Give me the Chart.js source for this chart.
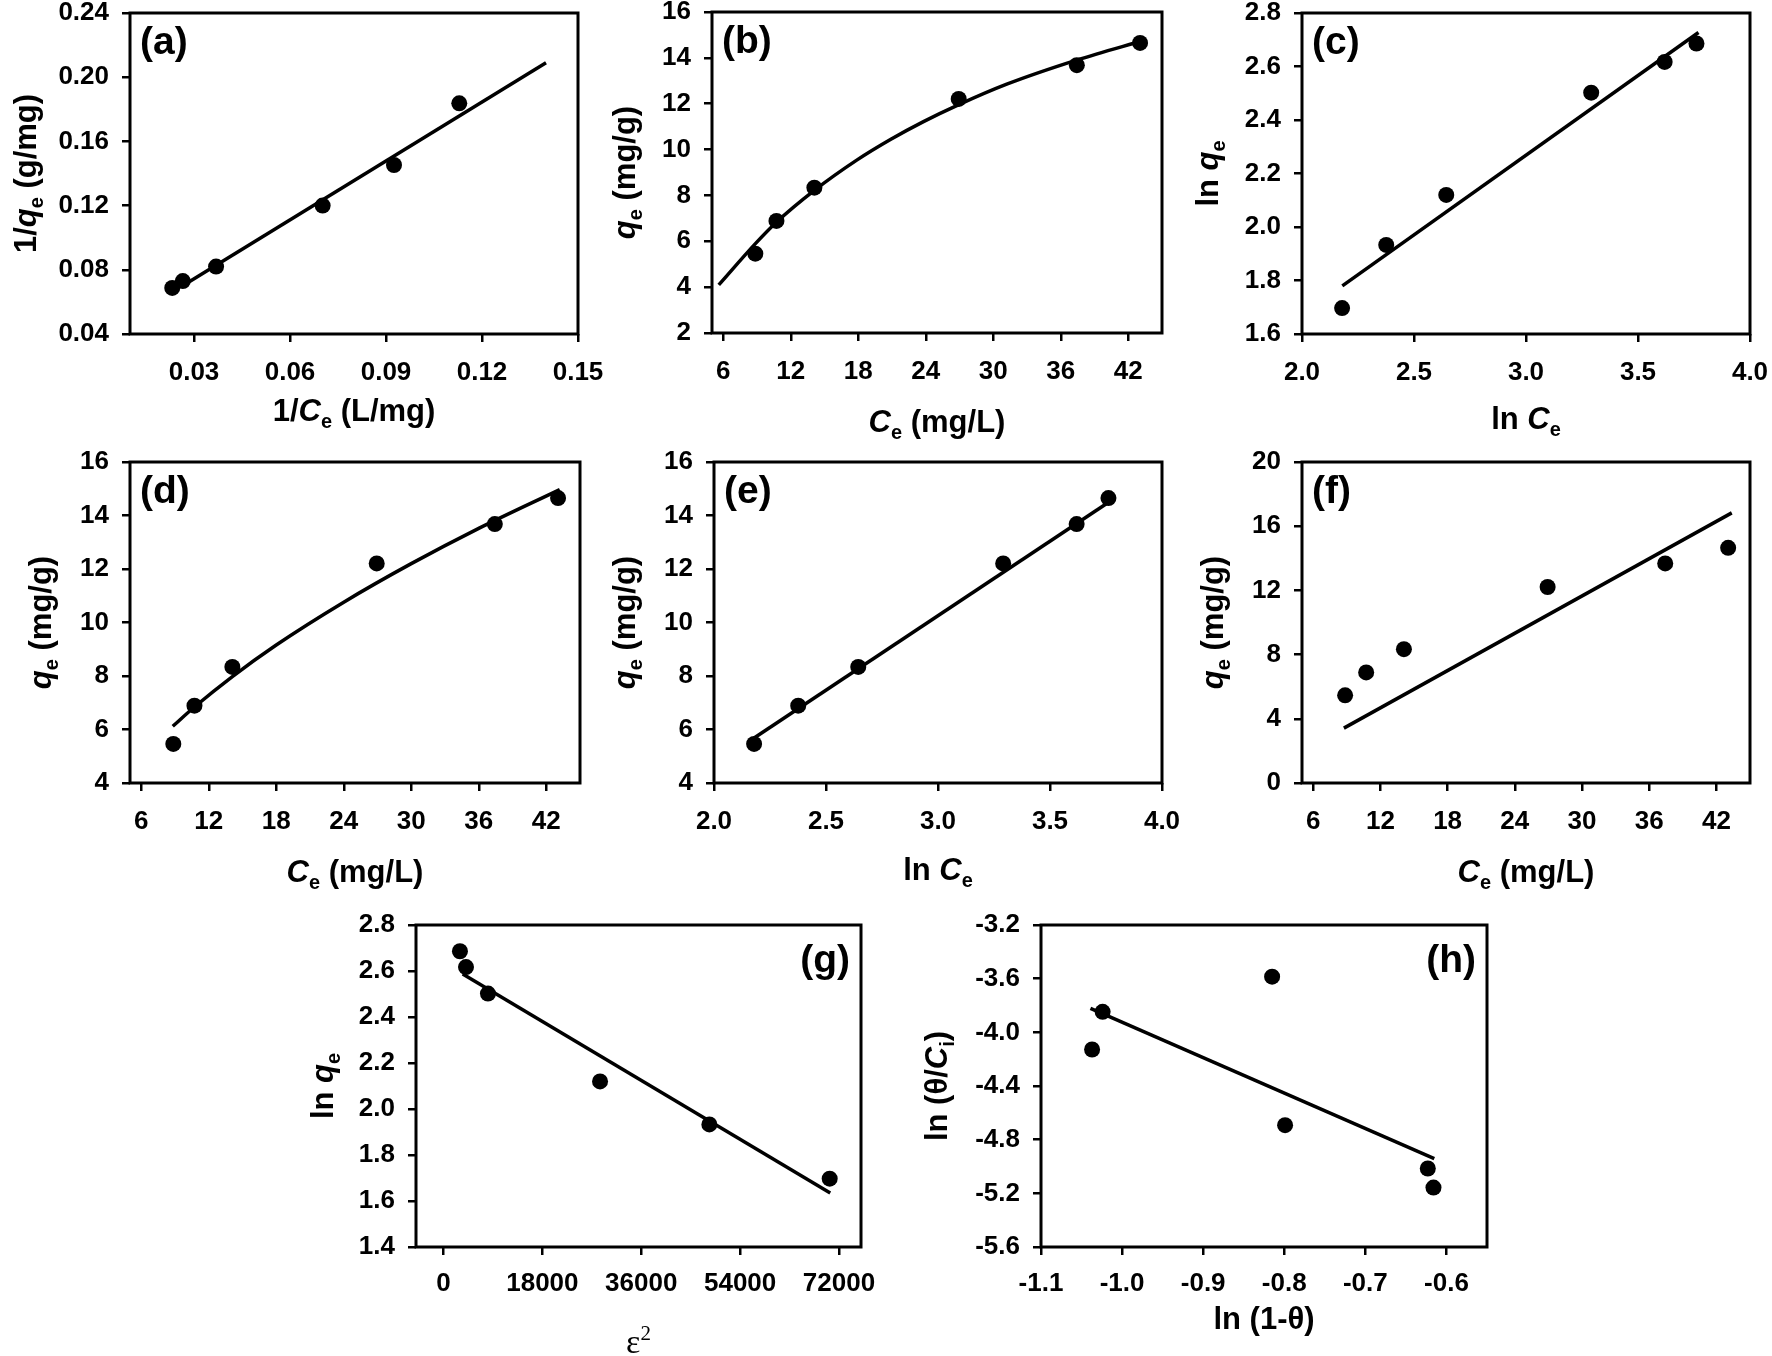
<!DOCTYPE html>
<html>
<head>
<meta charset="utf-8">
<script src="https://cdn.jsdelivr.net/npm/chart.js@4.4.1/dist/chart.umd.min.js"></script>
<style>
  html, body { margin: 0; padding: 0; background: #fff; }
  #page { position: relative; width: 1772px; height: 1356px; overflow: hidden; background: #fff; }
  .panel { position: absolute; }
</style>
</head>
<body>
<div id="page"></div>
<script>
// ---- data ----
// (a) linear Langmuir
const invCe = [0.0232, 0.0265, 0.0369, 0.0702, 0.0925, 0.1129];
const invQe = [0.0687, 0.0730, 0.0820, 0.1200, 0.1453, 0.1837];
const fitAX = [0.028, 0.140];
const fitAY = [0.072, 0.209];

// (b), (d), (f) equilibrium data
const ce = [8.85, 10.73, 14.1, 26.93, 37.43, 43.05];
const qe = [5.46, 6.89, 8.34, 12.21, 13.68, 14.65];

// (b) Langmuir curve
const fitBX = [5.6, 8.9, 10.7, 14.1, 17.9, 20.9, 23.8, 26.9, 31.2, 37.4, 43.5];
const fitBY = [4.1, 5.92, 6.82, 8.22, 9.55, 10.45, 11.22, 11.95, 12.85, 13.9, 14.78];

// (c), (e) log data
const lnCe = [2.179, 2.376, 2.644, 3.291, 3.619, 3.761];
const lnQe = [1.697, 1.933, 2.12, 2.502, 2.617, 2.686];
const fitCX = [2.18, 3.77];
const fitCY = [1.78, 2.727];

// (d) Freundlich curve
const fitDX = [8.8, 10.75, 14.1, 18, 24, 30, 36, 43.2];
const fitDY = [6.12, 6.85, 7.98, 9.16, 10.76, 12.2, 13.52, 14.97];

// (e) Temkin line
const fitEX = [2.179, 3.775];
const fitEY = [5.68, 14.57];

// (f) Henry line
const fitFX = [8.74, 43.37];
const fitFY = [3.42, 16.83];

// (g) D-R
const epsSq = [3000, 4100, 8100, 28500, 48400, 70300];
const lnQeG = [2.686, 2.617, 2.502, 2.12, 1.933, 1.697];
const fitGX = [3500, 70400];
const fitGY = [2.587, 1.635];

// (h) Frumkin
const lnOneMinusTheta = [-1.037, -1.024, -0.815, -0.799, -0.623, -0.616];
const lnThetaCi = [-4.128, -3.847, -3.585, -4.692, -5.015, -5.157];
const fitHX = [-1.039, -0.615];
const fitHY = [-3.822, -4.941];

// tick labels
const ticksAX = ['0.03', '0.06', '0.09', '0.12', '0.15'];
const ticksAY = ['0.04', '0.08', '0.12', '0.16', '0.20', '0.24'];
const ticksCeX = ['6', '12', '18', '24', '30', '36', '42'];
const ticksBY = ['2', '4', '6', '8', '10', '12', '14', '16'];
const ticksLnX = ['2.0', '2.5', '3.0', '3.5', '4.0'];
const ticksCY = ['1.6', '1.8', '2.0', '2.2', '2.4', '2.6', '2.8'];
const ticksDY = ['4', '6', '8', '10', '12', '14', '16'];
const ticksFY = ['0', '4', '8', '12', '16', '20'];
const ticksGX = ['0', '18000', '36000', '54000', '72000'];
const ticksGY = ['1.4', '1.6', '1.8', '2.0', '2.2', '2.4', '2.6', '2.8'];
const ticksHX = ['-1.1', '-1.0', '-0.9', '-0.8', '-0.7', '-0.6'];
const ticksHY = ['-5.6', '-5.2', '-4.8', '-4.4', '-4.0', '-3.6', '-3.2'];

// ---- layout ----
const FONT = '"Liberation Sans", Arial, sans-serif';
const PAD_L = 130, PAD_T = 30, PAD_R = 50, PAD_B = 125;
const TICK_SIZE = 26, TITLE_SIZE = 31, LABEL_SIZE = 39;

const titleCe = [['C', 'bi'], ['e', 'sub'], [' (mg/L)', 'b']];
const titleQe = [['q', 'bi'], ['e', 'sub'], [' (mg/g)', 'b']];
const titleLnCe = [['ln ', 'b'], ['C', 'bi'], ['e', 'sub']];
const titleLnQe = [['ln ', 'b'], ['q', 'bi'], ['e', 'sub']];

const panels = [
  { tag: '(a)', box: [130, 13, 578, 334], xs: [invCe], ys: [invQe], fx: fitAX, fy: fitAY,
    xr: [0.01, 0.15], yr: [0.04, 0.24], xt: ticksAX, yt: ticksAY, xpad: 15,
    xTitle: [['1/', 'b'], ['C', 'bi'], ['e', 'sub'], [' (L/mg)', 'b']], xTitleOff: 87,
    yTitle: [['1/', 'b'], ['q', 'bi'], ['e', 'sub'], [' (g/mg)', 'b']], yTitleOff: 94 },
  { tag: '(b)', box: [712, 12, 1162, 333], xs: [ce], ys: [qe], fx: fitBX, fy: fitBY, curve: true,
    xr: [5, 45], yr: [2, 16], xt: ticksCeX, yt: ticksBY, xpad: 15,
    xTitle: titleCe, xTitleOff: 99, yTitle: titleQe, yTitleOff: 77 },
  { tag: '(c)', box: [1302, 13, 1750, 334], xs: [lnCe], ys: [lnQe], fx: fitCX, fy: fitCY,
    xr: [2, 4], yr: [1.6, 2.8], xt: ticksLnX, yt: ticksCY, xpad: 15,
    xTitle: titleLnCe, xTitleOff: 95, yTitle: titleLnQe, yTitleOff: 84 },
  { tag: '(d)', box: [130, 462, 580, 783], xs: [ce], ys: [qe], fx: fitDX, fy: fitDY, curve: true,
    xr: [5, 45], yr: [4, 16], xt: ticksCeX, yt: ticksDY, xpad: 15,
    xTitle: titleCe, xTitleOff: 99, yTitle: titleQe, yTitleOff: 79 },
  { tag: '(e)', box: [714, 462, 1162, 783], xs: [lnCe], ys: [qe], fx: fitEX, fy: fitEY,
    xr: [2, 4], yr: [4, 16], xt: ticksLnX, yt: ticksDY, xpad: 15,
    xTitle: titleLnCe, xTitleOff: 97, yTitle: titleQe, yTitleOff: 79 },
  { tag: '(f)', box: [1302, 462, 1750, 783], xs: [ce], ys: [qe], fx: fitFX, fy: fitFY,
    xr: [5, 45], yr: [0, 20], xt: ticksCeX, yt: ticksFY, xpad: 15,
    xTitle: titleCe, xTitleOff: 99, yTitle: titleQe, yTitleOff: 79 },
  { tag: '(g)', box: [416, 925, 861, 1247], xs: [epsSq], ys: [lnQeG], fx: fitGX, fy: fitGY, tagRight: true,
    xr: [-5000, 76000], yr: [1.4, 2.8], xt: ticksGX, yt: ticksGY, xpad: 13,
    xTitle: [['\u03b5', 'serif'], ['2', 'sup']], xTitleOff: 106, yTitle: titleLnQe, yTitleOff: 83 },
  { tag: '(h)', box: [1041, 925, 1487, 1247], xs: [lnOneMinusTheta], ys: [lnThetaCi], fx: fitHX, fy: fitHY, tagRight: true,
    xr: [-1.1, -0.55], yr: [-5.6, -3.2], xt: ticksHX, yt: ticksHY, xpad: 13,
    xTitle: [['ln (1-\u03b8)', 'b']], xTitleOff: 82,
    yTitle: [['ln (\u03b8/', 'b'], ['C', 'bi'], ['i', 'sub'], [')', 'b']], yTitleOff: 94 }
];

function segFont(style, size) {
  if (style === 'bi') return `italic bold ${size}px ${FONT}`;
  if (style === 'sub') return `bold ${Math.round(size * 0.65)}px ${FONT}`;
  if (style === 'serif') return `${Math.round(size * 1.1)}px "Liberation Serif", serif`;
  if (style === 'sup') return `${Math.round(size * 0.68)}px "Liberation Serif", serif`;
  return `bold ${size}px ${FONT}`;
}
function segShift(style, size) {
  if (style === 'sub') return size * 0.22;
  if (style === 'sup') return -size * 0.42;
  return 0;
}
function drawRich(ctx, segs, x, y, size) {
  ctx.textBaseline = 'alphabetic';
  ctx.textAlign = 'left';
  let total = 0;
  const widths = segs.map(([t, s]) => { ctx.font = segFont(s, size); const w = ctx.measureText(t).width; total += w; return w; });
  let cx = x - total / 2;
  segs.forEach(([t, s], i) => {
    ctx.font = segFont(s, size);
    ctx.fillText(t, cx, y + segShift(s, size));
    cx += widths[i];
  });
}

const framePlugin = {
  id: 'frame',
  afterDraw(chart, args, opts) {
    const p = opts.panel;
    const { left, top, right, bottom } = chart.chartArea;
    const ctx = chart.ctx;
    ctx.save();
    ctx.strokeStyle = '#000';
    ctx.lineWidth = 3;
    ctx.strokeRect(left, top, right - left, bottom - top);
    ctx.fillStyle = '#000';
    // panel tag
    ctx.font = `bold ${LABEL_SIZE}px ${FONT}`;
    ctx.textBaseline = 'alphabetic';
    if (p.tagRight) { ctx.textAlign = 'right'; ctx.fillText(p.tag, right - 11, top + 47); }
    else { ctx.textAlign = 'left'; ctx.fillText(p.tag, left + 10, top + 41); }
    // axis titles
    drawRich(ctx, p.xTitle, (left + right) / 2, bottom + p.xTitleOff, TITLE_SIZE);
    ctx.translate(left - p.yTitleOff, (top + bottom) / 2);
    ctx.rotate(-Math.PI / 2);
    drawRich(ctx, p.yTitle, 0, 0, TITLE_SIZE);
    ctx.restore();
  }
};

function axis(range, labels, pos, pad) {
  return {
    type: 'linear', position: pos, min: range[0], max: range[1],
    border: { display: false },
    grid: { drawOnChartArea: false, drawTicks: true, tickLength: 8, color: '#000', lineWidth: 2.5 },
    ticks: {
      autoSkip: false, maxRotation: 0, minRotation: 0, padding: pad, color: '#000',
      font: { family: FONT, size: TICK_SIZE, weight: 'bold' },
      callback: (v, i) => labels[i]
    },
    afterBuildTicks: s => { s.ticks = labels.map(l => ({ value: Number(l) })); },
    afterFit: s => { if (pos === 'left') s.width = PAD_L; else s.height = PAD_B; }
  };
}

const page = document.getElementById('page');
panels.forEach(p => {
  const w = p.box[2] - p.box[0], h = p.box[3] - p.box[1];
  const div = document.createElement('div');
  div.className = 'panel';
  div.style.left = (p.box[0] - PAD_L) + 'px';
  div.style.top = (p.box[1] - PAD_T) + 'px';
  const cv = document.createElement('canvas');
  cv.width = w + PAD_L + PAD_R;
  cv.height = h + PAD_T + PAD_B;
  div.appendChild(cv);
  page.appendChild(div);

  new Chart(cv, {
    type: 'scatter',
    data: {
      datasets: [
        {
          label: 'fit', showLine: true, data: p.fx.map((x, i) => ({ x, y: p.fy[i] })),
          borderColor: '#000', borderWidth: 3.5, pointRadius: 0, fill: false,
          tension: p.curve ? 0.4 : 0, cubicInterpolationMode: p.curve ? 'monotone' : 'default'
        },
        {
          label: 'data', data: p.xs[0].map((x, i) => ({ x, y: p.ys[0][i] })),
          backgroundColor: '#000', borderColor: '#000', borderWidth: 0, pointRadius: 8
        }
      ]
    },
    options: {
      responsive: false, animation: false, devicePixelRatio: 1,
      layout: { padding: { left: 0, top: PAD_T, right: PAD_R, bottom: 0 } },
      plugins: { legend: { display: false }, tooltip: { enabled: false }, frame: { panel: p } },
      scales: {
        x: axis(p.xr, p.xt, 'bottom', p.xpad),
        y: axis(p.yr, p.yt, 'left', 13)
      }
    },
    plugins: [framePlugin]
  });
});
</script>
</body>
</html>
